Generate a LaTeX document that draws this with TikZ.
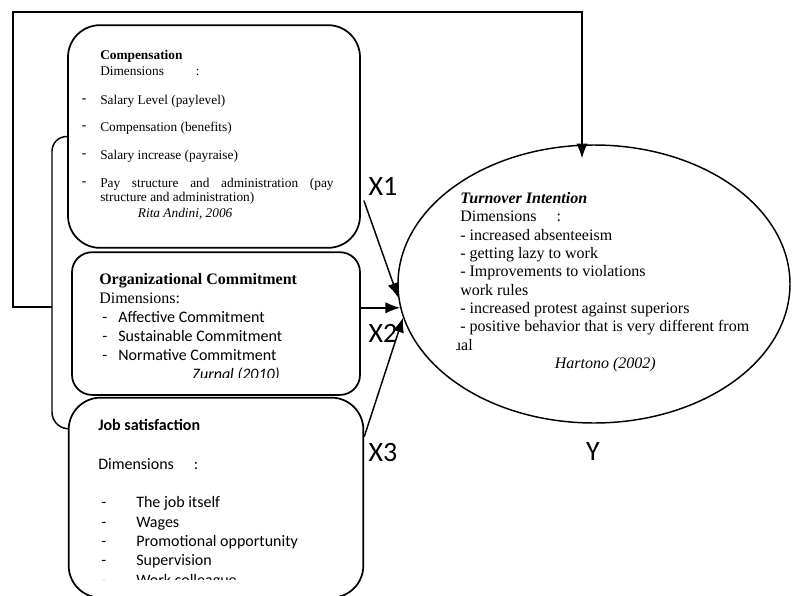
\documentclass[tikz,border=0pt]{standalone}
\usepackage{fontspec}
\setmainfont{Liberation Serif}
\newfontfamily\calibri{Carlito}
\usetikzlibrary{arrows.meta,positioning,calc,shapes.geometric}

\newcommand{\compdash}{\makebox[12.75pt][l]{\hspace*{-1pt}\raisebox{1.8pt}{\textbf{-}}}}
\newcommand{\orgdash}{\hspace*{2.25pt}\makebox[12pt][l]{-}}
\newcommand{\jobdash}{\hspace*{2.25pt}\makebox[26.25pt][l]{-}}

\tikzset{
  dimbox/.style={draw,line width=1.3pt,inner sep=0pt},
  txt/.style={inner sep=0pt,align=left,anchor=north west},
  arr/.style={-{Latex[length=11pt,width=8.5pt]},line width=1.1pt},
  brace/.style={line width=1.1pt,rounded corners=11pt},
  varlabel/.style={font=\calibri\fontsize{21}{25}\selectfont,inner sep=0pt}
}

\begin{document}
\begin{tikzpicture}[x=0.75pt,y=-0.75pt]
  \useasboundingbox (0,0) rectangle (793,596);

  % variable boxes
  \node[dimbox,rounded corners=24pt,minimum width=219pt,minimum height=167pt] (comp) at (214,136.5) {};
  \node[dimbox,rounded corners=15pt,minimum width=216pt,minimum height=107pt,xshift=1.5pt] (orgc) [below=2pt of comp] {};
  \node[dimbox,rounded corners=24pt,minimum width=221pt,minimum height=150pt] (jobs) [below=0.75pt of orgc] {};
  \node[draw,ellipse,line width=1.1pt,inner sep=0pt,minimum width=294pt,minimum height=208.5pt] (turn) at (594,284) {};

  % box texts
  \node[txt,font=\fontsize{10}{12}\selectfont] (comptxt) at (83,50) {%
    \hspace*{12.75pt}\textbf{Compensation}\\
    \hspace*{12.75pt}Dimensions\hspace{24pt}:\\[9.75pt]
    \compdash Salary Level (paylevel)\\[8.25pt]
    \compdash Compensation (benefits)\\[9pt]
    \compdash Salary increase (payraise)\\[9pt]
    \compdash\makebox[175pt][s]{Pay structure and administration (pay}\\[-1.5pt]
    \hspace*{12.75pt}structure and administration)\\
    \hspace*{41pt}\textit{Rita Andini, 2006}};

  \begin{scope}
    \clip (72,251) rectangle (360,377);
    \node[txt,font=\fontsize{12}{14.25}\selectfont] (orgtxt) at (99,273) {%
      \textbf{Organizational Commitment}\\
      Dimensions:\\
      {\calibri\orgdash Affective Commitment}\\
      {\calibri\orgdash Sustainable Commitment}\\
      {\calibri\orgdash Normative Commitment}\\
      \hspace*{70pt}{\calibri\itshape Zurnal (2010)}};
  \end{scope}

  \begin{scope}
    \clip (66,395) rectangle (366,579);
    \node[txt,font=\calibri\fontsize{12}{14.5}\selectfont] (jobtxt) at (98,419) {%
      \textbf{Job satisfaction}\\[14.5pt]
      Dimensions\hspace{15pt}:\\[14.5pt]
      \jobdash The job itself\\
      \jobdash Wages\\
      \jobdash Promotional opportunity\\
      \jobdash Supervision\\
      \jobdash Work colleague};
  \end{scope}

  \begin{scope}
    \clip (456,150) rectangle (785,420);
    \node[txt,font=\fontsize{12}{13.75}\selectfont] (turntxt) at (460,192) {%
      \textbf{\textit{Turnover Intention}}\\
      Dimensions\hspace{15pt}:\\
      - increased absenteeism\\
      - getting lazy to work\\
      - Improvements to violations\\
      work rules\\
      - increased protest against superiors\\
      - positive behavior that is very different from\\
      \hspace*{-16pt}usual\\
      \hspace*{71pt}\textit{Hartono (2002)}};
  \end{scope}

  % labels
  \node[varlabel] (x1) at (383,186) {X1};
  \node[varlabel] (x2) at (383,333) {X2};
  \node[varlabel] (x3) at (383,453) {X3};
  \node[varlabel] (y)  at (593,452) {Y};

  % connectors
  \coordinate (jobbrk) at ($(jobs.north west)+(0,32)$);
  \coordinate (fb) at (52,307);
  \coordinate (fbend) at ($(turn.north)+(-12,14)$);
  \draw[brace] (comp.west) -| (52,427) -- (jobbrk);
  \draw[arr] (fb) -- (13,307) |- (582,12) -- (fbend);
  \draw[arr] ($(comp.east)+(3,64)$) -- (turn.184);
  \draw[arr] (turn.187 -| orgc.east) -- (turn.187);
  \draw[arr] ($(jobs.north east)+(0,40)$) -- (turn.190);
\end{tikzpicture}
\end{document}
